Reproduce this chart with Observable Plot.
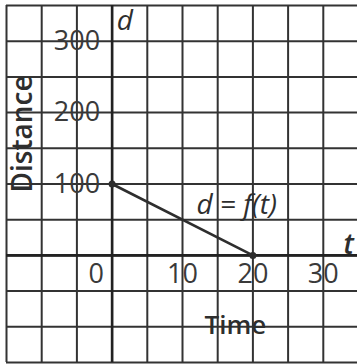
<!DOCTYPE html>
<html><head><meta charset="utf-8">
<script src="https://cdn.jsdelivr.net/npm/d3@7"></script>
<script src="https://cdn.jsdelivr.net/npm/@observablehq/plot@0.6"></script>
<style>body{margin:0;background:#fff;overflow:hidden} svg{display:block}</style>
</head><body><div id="chart"></div>
<script>
const gridTime = [-15, -10, -5, 0, 5, 10, 15, 20, 25, 30, 35];
const gridDistance = [-150, -100, -50, 0, 50, 100, 150, 200, 250, 300, 350];
const timeTicks = [10, 20, 30];
const originTick = [0];
const distanceTicks = [100, 200, 300];
const lineTime = [0, 20];
const lineDistance = [100, 0];
const lineLabel = "d = f(t)";

const points = lineTime.map((t, i) => ({t, d: lineDistance[i]}));
const ink = "#333";
const font = "'Open Sans', sans-serif";

const chart = Plot.plot({
  width: 357, height: 364,
  marginLeft: 6, marginRight: -1, marginTop: 5, marginBottom: 2,
  x: {domain: [-15, 35], axis: null},
  y: {domain: [-150, 350], axis: null},
  style: {fontFamily: font, background: "#fff", overflow: "visible"},
  marks: [
    Plot.ruleX(gridTime, {stroke: ink, strokeWidth: 2}),
    Plot.ruleY(gridDistance, {stroke: ink, strokeWidth: 2}),
    Plot.ruleX([0], {stroke: "#222", strokeWidth: 2.6}),
    Plot.ruleY([0], {stroke: "#222", strokeWidth: 2.6}),
    Plot.line(points, {x: "t", y: "d", stroke: "#2e2e2e", strokeWidth: 2.6}),
    Plot.dot(points, {x: "t", y: "d", r: 3.5, fill: "#2e2e2e"}),
    Plot.text(timeTicks, {x: d => d, y: 0, dy: 19, text: d => String(d), fontSize: 27, fill: "#3a3a3a"}),
    Plot.text(originTick, {x: d => d, y: 0, dy: 19, dx: -16, text: d => String(d), fontSize: 27, fill: "#3a3a3a"}),
    Plot.text(distanceTicks, {x: 0, y: d => d, dx: -12, textAnchor: "end", text: d => String(d), fontSize: 27, fill: "#3a3a3a"}),
    Plot.text(["Distance"], {x: -12.6, y: 170, rotate: -90, fontSize: 28, fontWeight: 600, fill: "#2e2e2e"}),
    Plot.text(["Time"], {x: 17.5, y: -98, fontSize: 26, fontWeight: 600, fill: "#2e2e2e"}),
    Plot.text(["d"], {x: 1.8, y: 328, fontSize: 28, fontStyle: "italic", fill: "#2e2e2e"}),
    Plot.text(["t"], {x: 33.6, y: 15, fontSize: 28, fontStyle: "italic", fontWeight: 600, fill: "#2e2e2e"}),
    Plot.text([lineLabel], {x: 17.7, y: 70, fontSize: 28, fontStyle: "italic", fill: "#2e2e2e"})
  ]
});
document.getElementById("chart").append(chart);
</script>
</body></html>
